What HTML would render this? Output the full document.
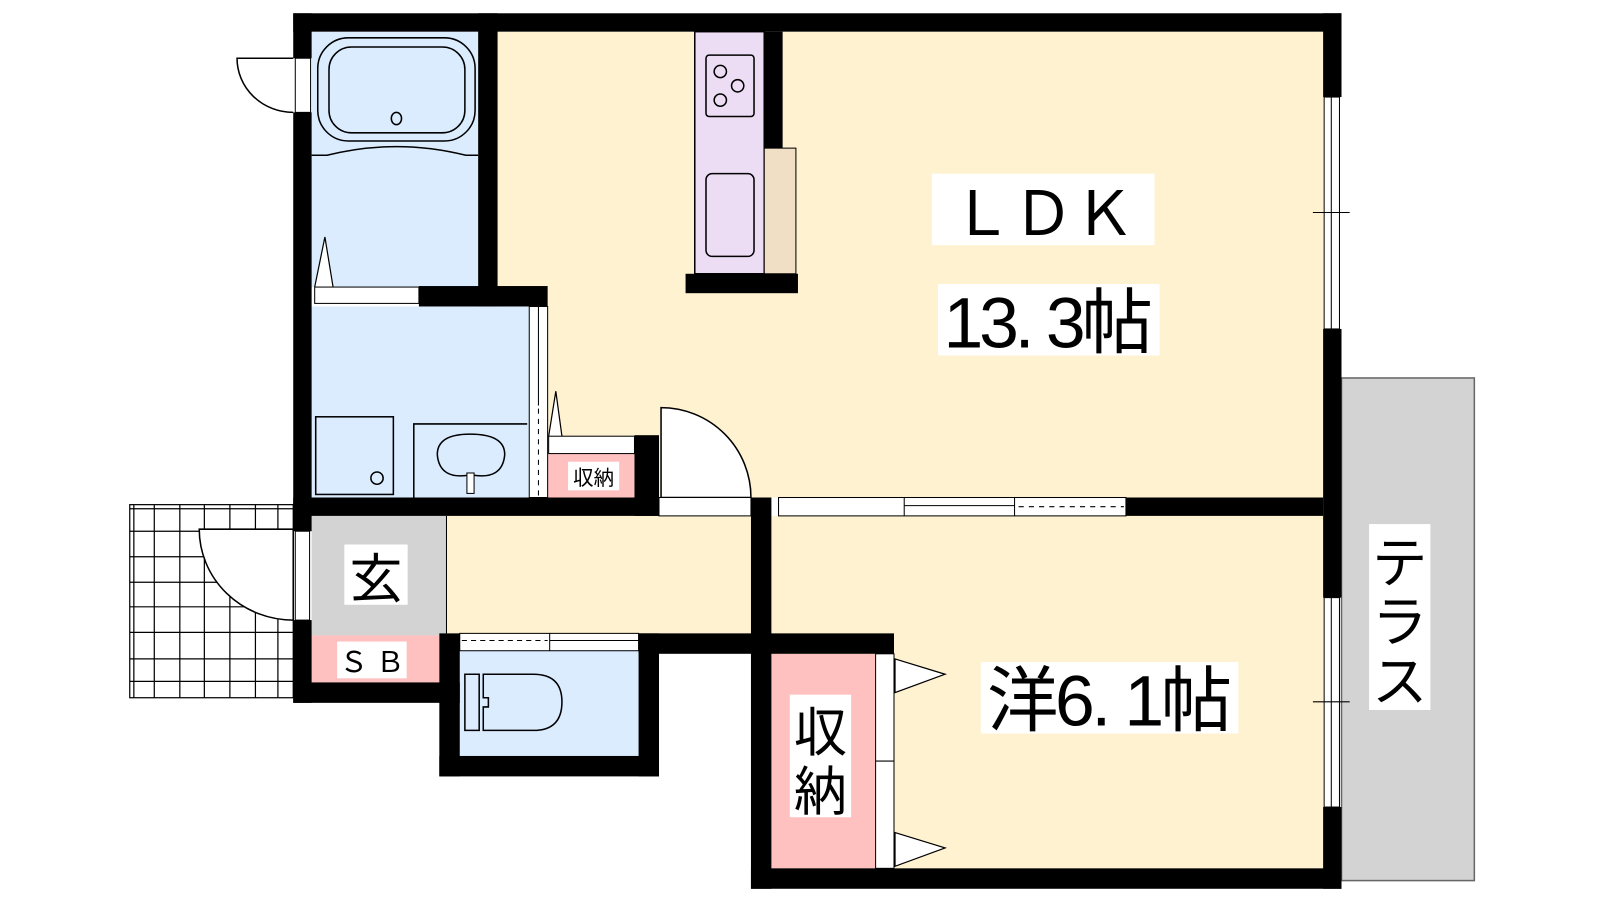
<!DOCTYPE html>
<html><head><meta charset="utf-8"><style>
html,body{margin:0;padding:0;background:#fff;}
svg{display:block;}
text{font-family:"Liberation Sans","Noto Sans CJK JP",sans-serif;fill:#000;}
</style></head><body>
<svg width="1600" height="900" viewBox="0 0 1566 881" preserveAspectRatio="none" xmlns="http://www.w3.org/2000/svg">
<!-- outdoor grid -->
<g stroke="#000" stroke-width="1.2">
<rect x="127" y="494" width="160" height="189" fill="#fff"/>
<path d="M127 498H287M127 520H287M127 545H287M127 570H287M127 594H287M127 619H287M127 645H287M127 667H287M131 494V683M151 494V683M176 494V683M200 494V683M225 494V683M250 494V683M272 494V683"/>
</g>
<path d="M195 518 H287 V607 A92 89 0 0 1 195 518 Z" fill="#fff" stroke="#000" stroke-width="1.5"/>
<!-- terrace -->
<rect x="1313" y="370" width="130" height="492" fill="#d3d3d3" stroke="#666" stroke-width="1.5"/>
<!-- floors -->
<rect x="487" y="31" width="808" height="456" fill="#fff2d0"/>
<rect x="437" y="505" width="298" height="115" fill="#fff2d0"/>
<rect x="755" y="505" width="540" height="345" fill="#fff2d0"/>
<rect x="305" y="31" width="163" height="250" fill="#dbecff"/>
<rect x="305" y="300" width="213" height="187" fill="#dbecff"/>
<rect x="450" y="637" width="175" height="103" fill="#dbecff"/>
<rect x="305" y="505" width="132" height="117" fill="#d3d3d3"/>
<rect x="305" y="622" width="125" height="46" fill="#ffc0c0"/>
<rect x="536" y="444" width="89" height="43" fill="#ffc0c0"/>
<rect x="755" y="640" width="102" height="210" fill="#ffc0c0"/>
<!-- kitchen -->
<rect x="680" y="31" width="68" height="237" fill="#ecdcf4" stroke="#000" stroke-width="1.5"/>
<rect x="748" y="145" width="31" height="123" fill="#f0dfc4" stroke="#000" stroke-width="1"/>
<rect x="748" y="31" width="18" height="114" fill="#000"/>
<rect x="671" y="268" width="110" height="19" fill="#000"/>
<rect x="691" y="54" width="47" height="60" rx="3" fill="none" stroke="#000" stroke-width="1.5"/>
<g fill="none" stroke="#000" stroke-width="1.5"><circle cx="705" cy="70" r="6"/><circle cx="722" cy="84" r="6"/><circle cx="705" cy="98" r="6"/></g>
<rect x="691" y="170" width="47" height="81" rx="6" fill="none" stroke="#000" stroke-width="1.5"/>
<!-- bath fixtures -->
<rect x="311" y="37" width="154" height="101" rx="30" fill="none" stroke="#000" stroke-width="1.5"/>
<rect x="322" y="46" width="133" height="84" rx="22" fill="none" stroke="#000" stroke-width="1.5"/>
<ellipse cx="388" cy="116" rx="5" ry="6" fill="none" stroke="#000" stroke-width="1.5"/>
<path d="M305 152 H320 Q388 135 456 152 H468" fill="none" stroke="#000" stroke-width="1.5"/>
<path d="M308 281 L318 232 L326 281" fill="#fff" stroke="#000" stroke-width="1.2"/>
<rect x="308" y="281" width="102" height="16" fill="#fff" stroke="#000" stroke-width="1"/>
<!-- washroom -->
<rect x="309" y="408" width="76" height="76" fill="none" stroke="#000" stroke-width="1.5"/>
<circle cx="369" cy="468" r="6" fill="none" stroke="#000" stroke-width="1.5"/>
<path d="M405 487 V415 H516" fill="none" stroke="#000" stroke-width="1.5"/>
<path d="M460 481 V465 Q430 470 428 445 Q428 425 460 425 Q494 425 494 445 Q492 470 462 465" fill="none" stroke="#000" stroke-width="1.5"/>
<rect x="457" y="463" width="7" height="20" fill="#fff" stroke="#000" stroke-width="1"/>
<rect x="518" y="300" width="18" height="187" fill="#fff" stroke="#000" stroke-width="1"/>
<line x1="527" y1="300" x2="527" y2="397" stroke="#000"/>
<line x1="527" y1="400" x2="527" y2="487" stroke="#000" stroke-dasharray="5,5"/>
<path d="M537 427 L544 383 L550 427" fill="#fff" stroke="#000" stroke-width="1.2"/>
<rect x="537" y="427" width="84" height="17" fill="#fff" stroke="#000" stroke-width="1"/>
<!-- LDK/洋 sliding door -->
<rect x="762" y="487" width="340" height="18" fill="#fff" stroke="#000" stroke-width="1"/>
<path d="M885 487V505M993 487V505M885 495H993" stroke="#000" stroke-width="1"/>
<line x1="997" y1="496" x2="1100" y2="496" stroke="#000" stroke-dasharray="5,5"/>
<!-- LDK door -->
<path d="M647 399 A88 88 0 0 1 735 487 H647 Z" fill="#fff" stroke="#000" stroke-width="1.5"/>
<rect x="645" y="487" width="90" height="18" fill="#fff" stroke="#000" stroke-width="1"/>
<!-- toilet top sliding -->
<rect x="450" y="620" width="175" height="17" fill="#fff" stroke="#000" stroke-width="1"/>
<line x1="538" y1="620" x2="538" y2="637" stroke="#000"/>
<line x1="538" y1="627" x2="625" y2="627" stroke="#000"/>
<line x1="452" y1="627" x2="536" y2="627" stroke="#000" stroke-dasharray="5,4"/>
<path d="M455 660 H469 V715 H455 Z M473 660 H522 Q550 660 550 687 Q550 715 522 715 H473 V692 H478 V683 H473 Z" fill="none" stroke="#000" stroke-width="1.5"/>
<!-- closet doors -->
<rect x="857" y="640" width="18" height="210" fill="#fff" stroke="#000" stroke-width="1"/>
<line x1="857" y1="745" x2="875" y2="745" stroke="#000"/>
<path d="M876 645 L925 660 L876 678 Z M876 815 L925 830 L876 848 Z" fill="#fff" stroke="#000" stroke-width="1.2"/>
<!-- windows -->
<rect x="289" y="57" width="15" height="53" fill="#fff" stroke="#000" stroke-width="1"/>
<path d="M287 57 H232 A55 53 0 0 0 287 110" fill="#fff" stroke="#000" stroke-width="1.5"/>
<rect x="289" y="520" width="14" height="87" fill="#fff" stroke="#000" stroke-width="1"/>
<g fill="#fff" stroke="#000" stroke-width="1">
<rect x="1296" y="95" width="15" height="227"/><rect x="1296" y="585" width="15" height="205"/></g>
<path d="M1303 95V322M1303 585V790M1285 208H1321M1285 687H1321" stroke="#000" stroke-width="1"/>
<!-- walls -->
<g fill="#000">
<rect x="287" y="13" width="1026" height="18"/>
<rect x="287" y="13" width="18" height="44"/>
<rect x="287" y="110" width="18" height="410"/>
<rect x="287" y="607" width="18" height="81"/>
<rect x="1295" y="13" width="18" height="82"/>
<rect x="1295" y="322" width="18" height="263"/>
<rect x="1295" y="790" width="18" height="80"/>
<rect x="468" y="13" width="19" height="287"/>
<rect x="410" y="280" width="126" height="20"/>
<rect x="287" y="487" width="358" height="18"/>
<rect x="621" y="426" width="24" height="79"/>
<rect x="735" y="487" width="20" height="383"/>
<rect x="1102" y="487" width="193" height="18"/>
<rect x="287" y="668" width="163" height="20"/>
<rect x="430" y="620" width="20" height="140"/>
<rect x="430" y="740" width="215" height="20"/>
<rect x="625" y="620" width="20" height="140"/>
<rect x="625" y="620" width="250" height="20"/>
<rect x="735" y="850" width="578" height="20"/>
</g>
<line x1="437" y1="505" x2="437" y2="620" stroke="#000" stroke-width="1"/>
<!-- labels -->
<g fill="#fff">
<rect x="912" y="170" width="218" height="70"/><rect x="918" y="278" width="217" height="70"/>
<rect x="960" y="648" width="252" height="70"/><rect x="1340" y="513" width="60" height="182"/>
<rect x="773" y="680" width="60" height="120"/><rect x="337" y="533" width="62" height="59"/>
<rect x="330" y="628" width="68" height="36"/><rect x="556" y="452" width="50" height="28"/>
</g>
<text x="1021" y="230" font-size="60" text-anchor="middle">ＬＤＫ</text>
<text x="1026" y="340" font-size="70" text-anchor="middle" textLength="205">13. 3帖</text>
<text x="1086" y="710" font-size="70" text-anchor="middle" textLength="240">洋6. 1帖</text>
<text x="1370" y="570" font-size="54" text-anchor="middle">テ</text>
<text x="1370" y="628" font-size="54" text-anchor="middle">ラ</text>
<text x="1370" y="686" font-size="54" text-anchor="middle">ス</text>
<text x="803" y="735" font-size="52" text-anchor="middle">収</text>
<text x="803" y="793" font-size="52" text-anchor="middle">納</text>
<text x="368" y="585" font-size="52" text-anchor="middle">玄</text>
<text x="364" y="658" font-size="28" text-anchor="middle">Ｓ Ｂ</text>
<text x="581" y="475" font-size="20" text-anchor="middle">収納</text>
</svg>
</body></html>
